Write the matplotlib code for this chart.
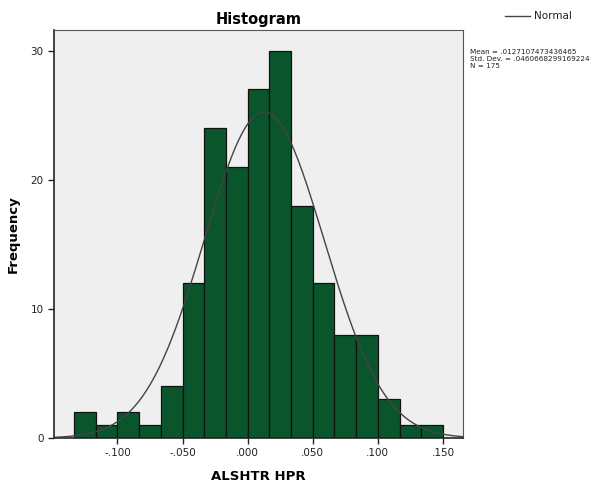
import matplotlib
matplotlib.use('Agg')
import matplotlib.pyplot as plt
import numpy as np

# histogram of ALSHTR HPR, bin width 1/60
bin_left = -0.13333
bin_width = 1 / 60
counts = [2, 1, 2, 1, 4, 12, 24, 21, 27, 30, 18, 12, 8, 8, 3, 1, 1]
mean = 0.0127107473436465
std = 0.0460668299169224
n = 175
xticks = [-0.10, -0.05, 0.0, 0.05, 0.10, 0.15]
xticklabels = ['-.100', '-.050', '.000', '.050', '.100', '.150']
yticks = [0, 10, 20, 30]

plt.rcParams['font.family'] = ['DejaVu Sans']

fig = plt.figure(figsize=(6, 4.84), dpi=100)
ax = fig.add_axes([0.09, 0.095, 0.6817, 0.843])
ax.set_facecolor('#efefef')

edges = bin_left + bin_width * np.arange(len(counts) + 1)
ax.bar(edges[:-1], counts, width=bin_width, align='edge',
       color='#0b552d', edgecolor='#111111', linewidth=0.9, zorder=2)

xs = np.linspace(-0.1487, 0.1654, 400)
ys = n * bin_width * np.exp(-0.5 * ((xs - mean) / std) ** 2) / (std * np.sqrt(2 * np.pi))
ax.plot(xs, ys, color='#444444', linewidth=1.0, zorder=3)

ax.set_xlim(-0.1487, 0.1654)
ax.set_ylim(0, 31.6)
ax.set_xticks(xticks)
ax.set_xticklabels(xticklabels)
ax.set_yticks(yticks)
ax.tick_params(labelsize=7.5, length=4, width=1, color='#222222', labelcolor='#222222')
for s in ['top', 'right']:
    ax.spines[s].set_linewidth(0.8)
    ax.spines[s].set_color('#555555')
for s in ['left', 'bottom']:
    ax.spines[s].set_linewidth(1.2)
    ax.spines[s].set_color('#222222')

ax.set_title('Histogram', fontsize=10.5, fontweight='bold', pad=4)
ax.set_xlabel('ALSHTR HPR', fontsize=9.5, fontweight='bold', labelpad=8)
ax.set_ylabel('Frequency', fontsize=9.5, fontweight='bold', labelpad=8)

# legend and stats box on the right
fig.add_artist(plt.Line2D([505 / 600, 530 / 600], [1 - 16 / 484, 1 - 16 / 484],
                          color='#444444', linewidth=1.0))
fig.text(534 / 600, 1 - 16 / 484, 'Normal', fontsize=7.5, va='center', color='#222222')
fig.text(470 / 600, 1 - 59 / 484,
         'Mean = .0127107473436465\nStd. Dev. = .0460668299169224\nN = 175',
         fontsize=5.2, va='center', linespacing=1.15, color='#222222')

fig.savefig('out.png', dpi=100)
